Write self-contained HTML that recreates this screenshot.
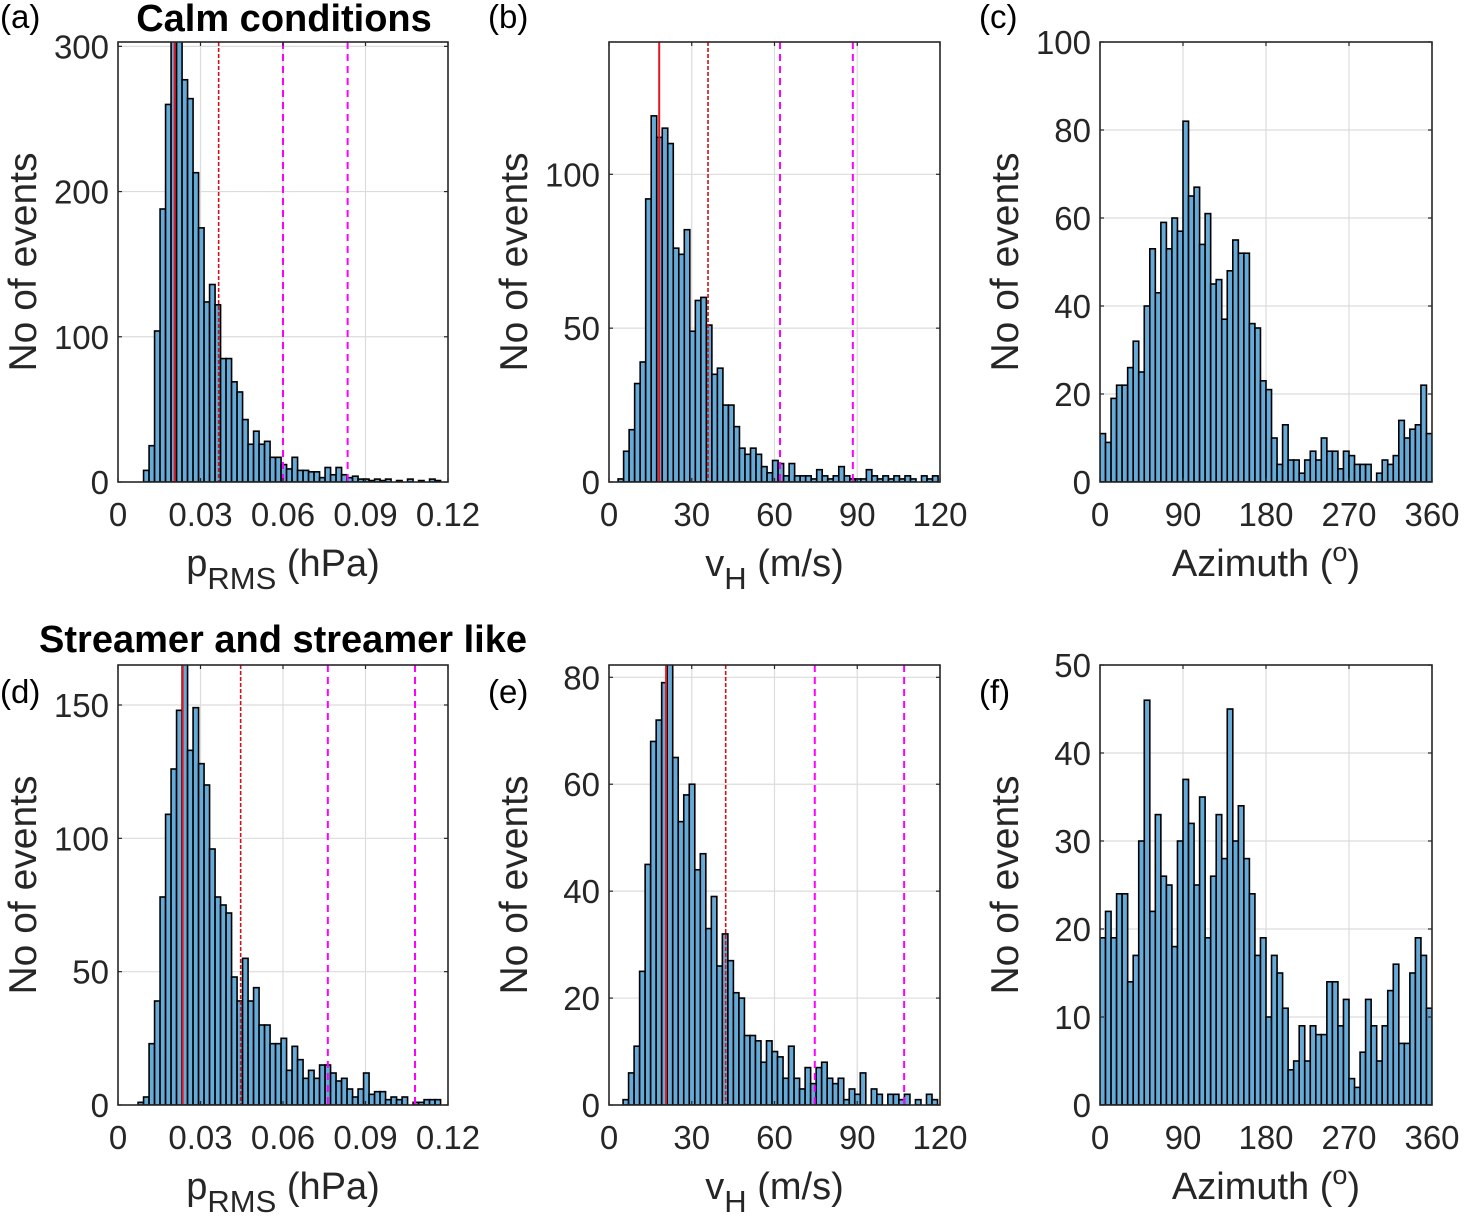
<!DOCTYPE html>
<html><head><meta charset="utf-8">
<style>
html,body{margin:0;padding:0;background:#fff;}
svg{display:block;font-family:"Liberation Sans",Arial,sans-serif;}
</style></head>
<body>
<svg id="fig" width="1464" height="1224" viewBox="0 0 1464 1224" xmlns="http://www.w3.org/2000/svg"></svg>
<script>
// ---------- data ----------
const countsA = [8,25,104,188,260,310,305,277,264,213,175,124,136,122,85,85,69,62,43,26,35,26,28,17,17,12,9,17,8,8,7,7,3,10,5,10,5,3,4,2,2,1,2,1,2,0,1,0,2,0,1,0,2,1,0];
const countsB = [1,10,17,32,39,92,119,112,115,110,76,74,82,49,59,60,51,35,37,25,25,18,11,9,11,9,5,3,7,6,2,6,2,2,2,1,4,2,1,2,5,2,1,1,1,4,2,1,2,1,2,1,2,1,0,2,1,2];
const countsC = [11,9,19,22,22,26,32,25,40,53,43,59,53,60,57,82,65,67,54,61,45,46,37,48,55,52,52,36,35,23,21,10,4,13,5,5,2,5,7,5,10,7,7,3,7,6,4,4,4,0,2,5,4,6,14,10,12,13,22,11];
const countsD = [1,3,23,39,78,109,126,148,170,133,149,128,120,96,78,75,72,48,39,55,39,44,30,30,23,23,25,13,22,17,10,13,10,15,15,12,9,10,6,3,6,12,4,5,5,2,3,2,3,0,1,1,2,2,2];
const countsE = [1,6,11,25,45,68,72,79,85,65,53,58,60,44,47,33,39,26,32,27,21,20,13,13,12,8,12,10,9,5,11,5,3,7,4,7,8,5,4,5,1,3,2,6,0,3,2,0,2,2,1,2,0,1,0,2,1];
const countsF = [19,22,19,24,24,14,17,30,46,22,33,26,25,18,30,37,32,25,35,19,26,33,28,45,30,34,28,24,17,19,10,17,15,11,4,5,9,5,9,8,8,14,14,9,12,3,2,6,12,9,5,9,13,16,7,7,15,19,17,11];
const binStarts = [0.0093, 3.3, 0, 0.0073, 5.1, 0];
const binWidths = [0.002, 2, 6, 0.002, 2, 6];
const redMedians = [0.0206, 18.2, null, 0.0235, 20.7, null];
const redMeans = [0.0366, 35.9, null, 0.0446, 42.3, null];
const magentaA = [0.060, 62, null, 0.0763, 74.6, null];
const magentaB = [0.0835, 88.4, null, 0.108, 107, null];
const xTicksP = [0, 0.03, 0.06, 0.09, 0.12];
const xTickLabelsP = ["0","0.03","0.06","0.09","0.12"];
const xTicksV = [0, 30, 60, 90, 120];
const xTicksAz = [0, 90, 180, 270, 360];
const yTicksA = [0,100,200,300];
const yTicksB = [0,50,100];
const yTicksC = [0,20,40,60,80,100];
const yTicksD = [0,50,100,150];
const yTicksE = [0,20,40,60,80];
const yTicksF = [0,10,20,30,40,50];
const yMaxes = [303, 143, 100, 165, 82.3, 50];
const xMaxes = [0.12, 120, 360, 0.12, 120, 360];

// ---------- drawing ----------
const NS = "http://www.w3.org/2000/svg";
const fig = document.getElementById("fig");
function mk(tag, attrs, parent){
  const e = document.createElementNS(NS, tag);
  for (const k in attrs) e.setAttribute(k, attrs[k]);
  (parent||fig).appendChild(e);
  return e;
}
const panels = [
  {id:"a", x0:118, x1:448, y0:42, y1:482, counts:countsA, xt:xTicksP, xtl:xTickLabelsP, yt:yTicksA, xlab:"p"},
  {id:"b", x0:609, x1:940, y0:42, y1:482, counts:countsB, xt:xTicksV, xtl:xTicksV.map(String), yt:yTicksB, xlab:"v"},
  {id:"c", x0:1100, x1:1432, y0:42, y1:482, counts:countsC, xt:xTicksAz, xtl:xTicksAz.map(String), yt:yTicksC, xlab:"az"},
  {id:"d", x0:118, x1:448, y0:665, y1:1105, counts:countsD, xt:xTicksP, xtl:xTickLabelsP, yt:yTicksD, xlab:"p"},
  {id:"e", x0:609, x1:940, y0:665, y1:1105, counts:countsE, xt:xTicksV, xtl:xTicksV.map(String), yt:yTicksE, xlab:"v"},
  {id:"f", x0:1100, x1:1432, y0:665, y1:1105, counts:countsF, xt:xTicksAz, xtl:xTicksAz.map(String), yt:yTicksF, xlab:"az"}
];
panels.forEach((p, i) => {
  const xmax = xMaxes[i], ymax = yMaxes[i];
  const sx = v => p.x0 + (v / xmax) * (p.x1 - p.x0);
  const sy = v => p.y1 - (v / ymax) * (p.y1 - p.y0);
  const g = mk("g", {});
  
  
  const cp = mk("clipPath", {id:"clip"+p.id}, g);
  mk("rect", {x:p.x0, y:p.y0, width:p.x1-p.x0, height:p.y1-p.y0}, cp);
  p.xt.forEach(t => { if (t>0 && t<xmax) mk("line",{x1:sx(t),x2:sx(t),y1:p.y0,y2:p.y1,stroke:"#dcdcdc","stroke-width":1.2}, g); });
  p.yt.forEach(t => { if (t>0 && t<ymax) mk("line",{x1:p.x0,x2:p.x1,y1:sy(t),y2:sy(t),stroke:"#dcdcdc","stroke-width":1.2}, g); });
  const bg = mk("g", {"clip-path":"url(#clip"+p.id+")"}, g);
  p.counts.forEach((c, k) => {
    const l = binStarts[i] + k*binWidths[i];
    const r = mk("rect", {x:sx(l), y:sy(c), width:sx(l+binWidths[i])-sx(l), height:Math.max(0, p.y1 - sy(c)), fill:"#66aad7", stroke:"#000", "stroke-width":1.6}, bg);
    
    
  });
  if (redMedians[i] !== null) {
    const l1 = mk("line",{x1:sx(redMedians[i]),x2:sx(redMedians[i]),y1:p.y0,y2:p.y1,stroke:"#e8141e","stroke-width":2}, g);
    
    
    const l2 = mk("line",{x1:sx(redMeans[i]),x2:sx(redMeans[i]),y1:p.y0,y2:p.y1,stroke:"#d0101a","stroke-width":1.6,"stroke-dasharray":"4 2"}, g);
    
    
    [magentaA[i], magentaB[i]].forEach((m, j) => {
      const lm = mk("line",{x1:sx(m),x2:sx(m),y1:p.y0,y2:p.y1,stroke:"#ff00ff","stroke-width":2,"stroke-dasharray":"7 5"}, g);
      
      
    });
  }
  mk("rect",{x:p.x0,y:p.y0,width:p.x1-p.x0,height:p.y1-p.y0,fill:"none",stroke:"#262626","stroke-width":1.6}, g);
  p.xt.forEach((t, k) => {
    mk("line",{x1:sx(t),x2:sx(t),y1:p.y1,y2:p.y1-4,stroke:"#262626","stroke-width":1.2}, g);
    mk("line",{x1:sx(t),x2:sx(t),y1:p.y0,y2:p.y0+4,stroke:"#262626","stroke-width":1.2}, g);
    const tx = mk("text",{x:sx(t),y:p.y1+44,"text-anchor":"middle","font-size":33,fill:"#262626"}, g);
    tx.textContent = p.xtl[k];
    
    
  });
  p.yt.forEach(t => {
    mk("line",{x1:p.x0,x2:p.x0+4,y1:sy(t),y2:sy(t),stroke:"#262626","stroke-width":1.2}, g);
    mk("line",{x1:p.x1,x2:p.x1-4,y1:sy(t),y2:sy(t),stroke:"#262626","stroke-width":1.2}, g);
    const ty = mk("text",{x:p.x0-9,y:sy(t)+12,"text-anchor":"end","font-size":33,fill:"#262626"}, g);
    ty.textContent = String(t);
    
    
  });
  const cy = (p.y0+p.y1)/2, lx = p.x0 - 82;
  const yl = mk("text",{x:lx,y:cy,"text-anchor":"middle","font-size":39,fill:"#262626",transform:"rotate(-90 "+lx+" "+cy+")"}, g);
  yl.textContent = "No of events";
  
  
  const cx = (p.x0+p.x1)/2, by = p.y1 + 94;
  const xl = mk("text",{x:cx,y:by,"text-anchor":"middle","font-size":38,fill:"#262626"}, g);
  
  
  if (p.xlab === "p") {
    xl.innerHTML = 'p<tspan dy="13" font-size="31">RMS</tspan><tspan dy="-13"> (hPa)</tspan>';
  } else if (p.xlab === "v") {
    xl.innerHTML = 'v<tspan dy="13" font-size="31">H</tspan><tspan dy="-13"> (m/s)</tspan>';
  } else {
    xl.innerHTML = 'Azimuth (<tspan dy="-15" font-size="27">o</tspan><tspan dy="15">)</tspan>';
  }
  const pl = mk("text",{x:p.x0-121,y:p.y0-14,"font-size":33,fill:"#000"}, g);
  pl.textContent = "(" + p.id + ")";
  if (p.id==="d"||p.id==="e"||p.id==="f") pl.setAttribute("y", p.y0+38);
  if (p.id==="a"||p.id==="d") pl.setAttribute("x", 0);
  
  
});
const t1 = mk("text",{x:284,y:31,"text-anchor":"middle","font-size":38,"font-weight":"bold",fill:"#000"});
t1.textContent = "Calm conditions";


const t2 = mk("text",{x:283,y:652,"text-anchor":"middle","font-size":38,"font-weight":"bold",fill:"#000"});
t2.textContent = "Streamer and streamer like";


</script>
</body></html>
